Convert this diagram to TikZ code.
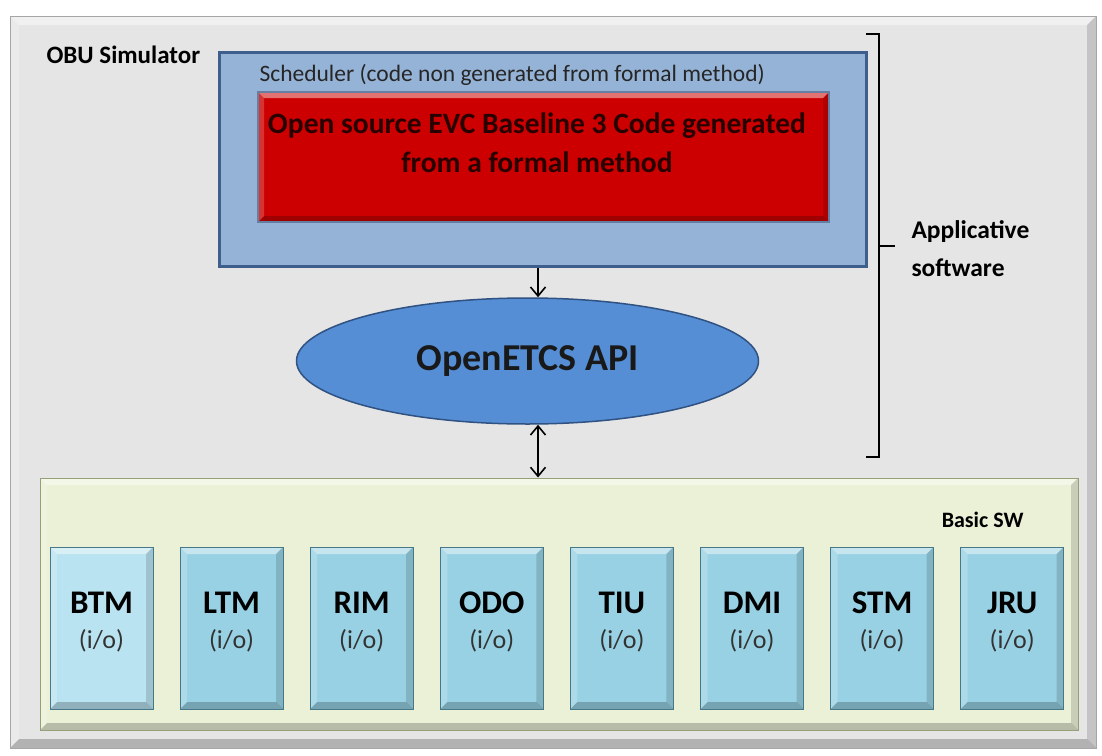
\documentclass[tikz,border=0pt]{standalone}
\usepackage{fontspec}
\setmainfont{Carlito}
\usetikzlibrary{shapes.geometric,arrows.meta}

\definecolor{panelgray}{RGB}{229,229,229}
\definecolor{schedblue}{RGB}{149,179,215}
\definecolor{scheddark}{RGB}{62,95,140}
\definecolor{evcred}{RGB}{204,0,0}
\definecolor{evctext}{RGB}{40,0,0}
\definecolor{apiblue}{RGB}{85,142,213}
\definecolor{apidark}{RGB}{47,82,130}
\definecolor{swgreen}{RGB}{234,241,214}
\definecolor{swdark}{RGB}{150,160,120}
\definecolor{modblue}{RGB}{152,209,227}
\definecolor{modlight}{RGB}{185,227,240}
\definecolor{moddark}{RGB}{70,120,135}

\begin{document}
\begin{tikzpicture}[x=1pt,y=-1pt,
  bevel/.style={path picture={
    \fill[white,opacity=.45] (path picture bounding box.north west) -- (path picture bounding box.north east)
      -- ([shift={(-#1,-#1)}]path picture bounding box.north east) -- ([shift={(#1,-#1)}]path picture bounding box.north west) -- cycle;
    \fill[black,opacity=.22] (path picture bounding box.south west) -- (path picture bounding box.south east)
      -- ([shift={(-#1,#1)}]path picture bounding box.south east) -- ([shift={(#1,#1)}]path picture bounding box.south west) -- cycle;
    \fill[black,opacity=.14] (path picture bounding box.north east) -- (path picture bounding box.south east)
      -- ([shift={(-#1,#1)}]path picture bounding box.south east) -- ([shift={(-#1,-#1)}]path picture bounding box.north east) -- cycle;
    \fill[white,opacity=.2] (path picture bounding box.north west) -- (path picture bounding box.south west)
      -- ([shift={(#1,#1)}]path picture bounding box.south west) -- ([shift={(#1,-#1)}]path picture bounding box.north west) -- cycle;
  }},
  box/.style={rectangle,inner sep=0pt},
  arr/.style={line width=1.6pt,-{Straight Barb[length=9pt,width=15pt]}},
  darr/.style={line width=1.6pt,{Straight Barb[length=9pt,width=15pt]}-{Straight Barb[length=9pt,width=15pt]}},
  iobox/.style={box,draw=moddark,line width=1pt,bevel=7pt,minimum width=103pt,minimum height=162pt},
  modname/.style={font=\fontsize{33}{38}\selectfont\bfseries},
  iotext/.style={font=\fontsize{26}{30}\selectfont,text=black!80}]

% frame
\fill[white] (0,0) rectangle (1102,755);
\node[box,fill=panelgray,draw=gray!70,line width=1pt,bevel=9pt,minimum width=1086pt,minimum height=732pt] (obu) at (553,382) {};
\node[anchor=west,font=\fontsize{25}{29}\selectfont\bfseries] (obutitle) at (43,55) {OBU Simulator};

% applicative part
\node[box,fill=schedblue,draw=scheddark,line width=3pt,minimum width=647pt,minimum height=214pt] (sched) at (542.5,159) {};
\node[anchor=west,font=\fontsize{23.5}{27}\selectfont,text=black!85] (schedtitle) at (256,75) {Scheduler (code non generated from formal method)};
\node[box,fill=evcred,draw=scheddark!80,line width=2pt,bevel=6pt,minimum width=571pt,minimum height=130pt] (evc) at (543.5,157) {};
\node[align=center,font=\fontsize{29.5}{39}\selectfont\bfseries,text=evctext] (evctext) at (537,143) {Open source EVC Baseline 3 Code generated\\from a formal method};
\node[ellipse,fill=apiblue,draw=apidark,line width=1.5pt,inner sep=0pt,minimum width=462pt,minimum height=126pt,
  font=\fontsize{38}{43}\selectfont\bfseries,text=black!90] (api) at (527.5,361) {OpenETCS API};

\draw[line width=2.5pt] (866,34) -- (879,34) -- (879,457) -- (866,457);
\draw[line width=2.5pt] (879,246) -- (895,246);
\node[anchor=west,align=left,font=\fontsize{25.5}{38}\selectfont\bfseries] (appsw) at (908,249) {Applicative\\software};

% basic sw
\node[box,fill=swgreen,draw=swdark,line width=1pt,bevel=7pt,minimum width=1038pt,minimum height=252pt] (basic) at (559,604) {};
\node[anchor=east,font=\fontsize{22}{26}\selectfont\bfseries] (basictitle) at (1027,520) {Basic SW};

\foreach \n/\c [count=\i from 0] in {BTM/modlight,LTM/modblue,RIM/modblue,ODO/modblue,TIU/modblue,DMI/modblue,STM/modblue,JRU/modblue}{
  \node[iobox,fill=\c] (m\i) at ({101.5+130.1*\i},628) {};
  \node[modname] (n\i) at ([yshift=25pt]m\i.center) {\n};
  \node[iotext] (io\i) at ([yshift=-13pt]m\i.center) {(i/o)};
}

% links
\coordinate (ax) at (538,0);
\draw[arr] (sched.south -| ax) -- (api.north -| ax);
\draw[darr] (api.south -| ax) -- (basic.north -| ax);

\end{tikzpicture}
\end{document}
